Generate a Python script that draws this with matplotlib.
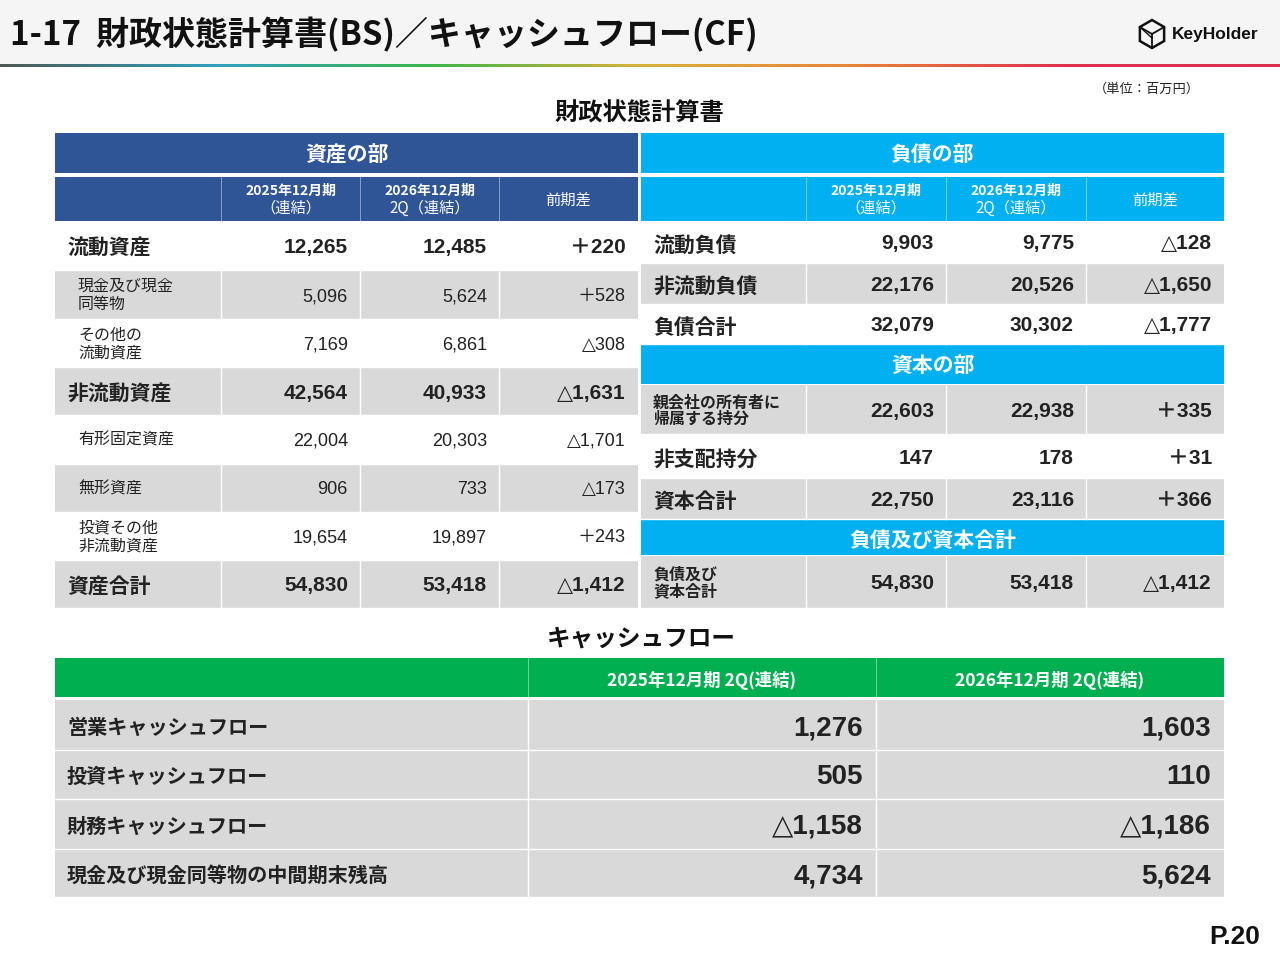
import numpy as np
import matplotlib
matplotlib.use("Agg")
import matplotlib.pyplot as plt
from matplotlib.patches import Rectangle, Polygon
from matplotlib.colors import LinearSegmentedColormap

JP = ['Noto Sans CJK JP', 'DejaVu Sans']
NUM = ['Liberation Sans', 'DejaVu Sans', 'Noto Sans CJK JP']

# ---- data (百万円) ----
asset_labels = ["流動資産", "現金及び現金\n同等物", "その他の\n流動資産", "非流動資産",
                "有形固定資産", "無形資産", "投資その他\n非流動資産", "資産合計"]
asset_prev = [12265, 5096, 7169, 42564, 22004, 906, 19654, 54830]
asset_curr = [12485, 5624, 6861, 40933, 20303, 733, 19897, 53418]
asset_diff = [220, 528, -308, -1631, -1701, -173, 243, -1412]

liab_labels = ["流動負債", "非流動負債", "負債合計"]
liab_prev = [9903, 22176, 32079]
liab_curr = [9775, 20526, 30302]
liab_diff = [-128, -1650, -1777]

equity_labels = ["親会社の所有者に\n帰属する持分", "非支配持分", "資本合計"]
equity_prev = [22603, 147, 22750]
equity_curr = [22938, 178, 23116]
equity_diff = [335, 31, 366]

total_label = "負債及び\n資本合計"
total_prev = 54830
total_curr = 53418
total_diff = -1412

bs_headers = ["2025年12月期", "（連結）", "2026年12月期", "2Q（連結）", "前期差"]

cf_labels = ["営業キャッシュフロー", "投資キャッシュフロー", "財務キャッシュフロー",
             "現金及び現金同等物の中間期末残高"]
cf_prev = [1276, 505, -1158, 4734]
cf_curr = [1603, 110, -1186, 5624]
cf_headers = ["2025年12月期 2Q(連結)", "2026年12月期 2Q(連結)"]

NAVY = "#2F5597"
CYAN = "#00B0F0"
GREEN = "#00B050"
GRAY = "#D9D9D9"
INK = "#222222"


def fmt(v):
    return f"{v:,}".replace("-", "△")


def fmt_diff(v):
    return ("＋" + f"{v:,}") if v >= 0 else ("△" + f"{-v:,}")


fig = plt.figure(figsize=(12.8, 9.6), dpi=100)
ax = fig.add_axes([0, 0, 1, 1])


def rect(x0, y0, x1, y1, color, z=1):
    ax.add_patch(Rectangle((x0, y0), x1 - x0, y1 - y0, facecolor=color,
                           edgecolor="none", zorder=z))


def txt(x, y, s, size, weight="normal", color=INK, ha="left", family=JP, ls=1.15):
    # small downward nudge: va=center sits a little high for these fonts
    ax.text(x, y + 2, s, fontsize=size, fontweight=weight, color=color, ha=ha,
            va="center", family=family, linespacing=ls, zorder=5)


# ---- page header ----
rect(0, 0, 1280, 64, "#F5F5F5")
cmap = LinearSegmentedColormap.from_list(
    "band", ["#4d5a52", "#2f9fc0", "#3bb54a", "#d8b23a", "#e8843a", "#e0304e", "#d9304f"])
ax.imshow(np.linspace(0, 1, 512)[None, :], extent=[0, 1280, 67.5, 64.5],
          aspect="auto", cmap=cmap, zorder=2)
txt(10, 33, "1-17  財政状態計算書(BS)／キャッシュフロー(CF)", 23.8, "bold", "#111111")

# logo
cx, cy, r = 1152, 34, 14
hexa = [(cx + r * np.cos(np.radians(a)), cy + r * np.sin(np.radians(a)))
        for a in (30, 90, 150, 210, 270, 330)]
ax.add_patch(Polygon(hexa, closed=True, fill=False, edgecolor="#111", lw=1.8, zorder=5))
ax.plot([hexa[2][0], cx, hexa[0][0]], [hexa[3][1], cy, hexa[5][1]], color="#111", lw=1.3, zorder=5)
ax.plot([cx, cx], [cy, hexa[1][1]], color="#111", lw=1.3, zorder=5)
ax.plot([hexa[2][0], cx], [hexa[2][1], hexa[1][1]], color="#111", lw=1.0, zorder=5)
ax.plot([hexa[3][0], cx], [hexa[3][1], cy + 4], color="#111", lw=1.0, zorder=5)
txt(1172, 32, "KeyHolder", 12.5, "bold", "#111111", family=NUM)

txt(1200, 87, "（単位：百万円）", 9.5, ha="right")
txt(639, 112, "財政状態計算書", 17.5, "bold", "#111111", ha="center")

# ---- balance sheet, shared header builder ----
LX = [55, 221, 360, 499, 638]
RX = [641, 806, 946, 1086, 1224]


def bs_header(xs, color, title):
    rect(xs[0], 133, xs[-1], 173, color)
    txt((xs[0] + xs[-1]) / 2, 153, title, 15, "bold", "white", ha="center")
    rect(xs[0], 177, xs[-1], 221, color)
    for i in range(2):
        cxm = (xs[i + 1] + xs[i + 2]) / 2
        txt(cxm, 189, bs_headers[2 * i], 10, "bold", "white", ha="center")
        txt(cxm, 206, bs_headers[2 * i + 1], 11, "normal", "white", ha="center")
    txt((xs[3] + xs[4]) / 2, 198, bs_headers[4], 11, "normal", "white", ha="center")
    for x in xs[1:-1]:
        ax.plot([x, x], [177, 221], color="white", lw=0.6, alpha=0.5, zorder=3)


def bs_row(xs, y0, y1, label, prev, curr, diff, shade, big_label, bold_vals):
    rect(xs[0], y0, xs[-1], y1, GRAY if shade else "white")
    ym = (y0 + y1) / 2
    if big_label:
        txt(xs[0] + 12, ym + 1, label, 15, "bold")
    else:
        txt(xs[0] + 23 if not bold_vals else xs[0] + 12, ym - 1, label, 11.5,
            "bold" if bold_vals else "normal", ls=1.05)
    w = "bold" if (big_label or bold_vals) else "normal"
    sz = 15 if (big_label or bold_vals) else 13
    for k, v in enumerate([fmt(prev), fmt(curr), fmt_diff(diff)]):
        txt(xs[k + 2] - 12, ym, v, sz, w, family=NUM, ha="right")
    for x in xs[1:-1]:
        ax.plot([x, x], [y0, y1], color="white", lw=1, zorder=3)
    ax.plot([xs[0], xs[-1]], [y1, y1], color="white", lw=1, zorder=3)


# left table (assets)
bs_header(LX, NAVY, "資産の部")
ay = [221, 270, 319, 367, 415, 464, 512, 560, 608]
a_big = [True, False, False, True, False, False, False, True]
for i, lab in enumerate(asset_labels):
    bs_row(LX, ay[i], ay[i + 1], lab, asset_prev[i], asset_curr[i], asset_diff[i],
           i % 2 == 1, a_big[i], False)

# right table (liabilities + equity)
bs_header(RX, CYAN, "負債の部")
ly = [221, 263, 304, 344]
for i, lab in enumerate(liab_labels):
    bs_row(RX, ly[i], ly[i + 1], lab, liab_prev[i], liab_curr[i], liab_diff[i],
           i % 2 == 1, True, True)

rect(RX[0], 345, RX[-1], 384, CYAN)
txt((RX[0] + RX[-1]) / 2, 363, "資本の部", 15, "bold", "white", ha="center")
ey = [385, 434, 478, 519]
e_big = [False, True, True]
for i, lab in enumerate(equity_labels):
    bs_row(RX, ey[i], ey[i + 1], lab, equity_prev[i], equity_curr[i], equity_diff[i],
           i % 2 == 0, e_big[i], True)

rect(RX[0], 520, RX[-1], 555, CYAN)
txt((RX[0] + RX[-1]) / 2, 538, "負債及び資本合計", 15, "bold", "white", ha="center")
bs_row(RX, 556, 608, total_label, total_prev, total_curr, total_diff, True, False, True)

# ---- cash flow ----
txt(641, 637, "キャッシュフロー", 17, "bold", "#111111", ha="center")
CX = [55, 528, 876, 1224]
rect(CX[0], 658, CX[-1], 697, GREEN)
for i, h in enumerate(cf_headers):
    txt((CX[i + 1] + CX[i + 2]) / 2, 678, h, 12.5, "bold", "white", ha="center")
for x in CX[1:-1]:
    ax.plot([x, x], [658, 697], color="white", lw=0.6, alpha=0.5, zorder=3)

cy_edges = [700, 750, 799, 849, 897]
for i, lab in enumerate(cf_labels):
    y0, y1 = cy_edges[i], cy_edges[i + 1]
    rect(CX[0], y0, CX[-1], y1, GRAY)
    ym = (y0 + y1) / 2
    txt(CX[0] + 12, ym, lab, 14.5, "bold")
    txt(CX[2] - 13, ym + 1, fmt(cf_prev[i]), 20, "bold", family=NUM, ha="right")
    txt(CX[3] - 13, ym + 1, fmt(cf_curr[i]), 20, "bold", family=NUM, ha="right")
    for x in CX[1:-1]:
        ax.plot([x, x], [y0, y1], color="white", lw=1, zorder=3)
    ax.plot([CX[0], CX[-1]], [y1, y1], color="white", lw=1, zorder=3)

txt(1260, 935, "P.20", 19, "bold", "#111111", ha="right", family=NUM)

ax.set_xlim(0, 1280)
ax.set_ylim(960, 0)
ax.axis("off")
fig.savefig("out.png", dpi=100)
